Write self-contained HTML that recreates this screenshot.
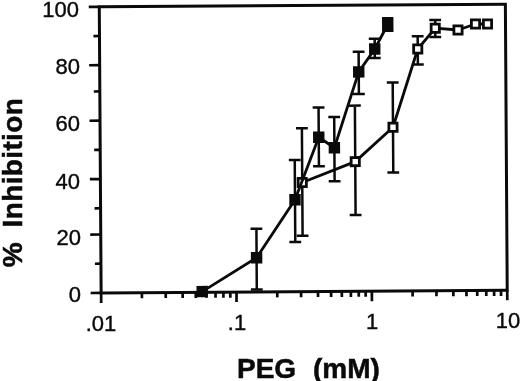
<!DOCTYPE html>
<html><head><meta charset="utf-8"><title>PEG inhibition</title>
<style>
html,body{margin:0;padding:0;background:#fff;}
body{width:520px;height:381px;overflow:hidden;}
svg{display:block;}
text{font-family:"Liberation Sans",sans-serif;fill:#0a0a0a;}
.t{stroke:#0a0a0a;stroke-width:0.4px;}
.b{stroke:#0a0a0a;stroke-width:0.5px;}
</style></head><body>
<svg width="520" height="381" viewBox="0 0 520 381">
<rect width="520" height="381" fill="#fff"/>
<g transform="rotate(-0.37 303.3 148.4)">
<rect x="100.2" y="5.5" width="406.10" height="286.10" fill="none" stroke="#0a0a0a" stroke-width="3.0"/>
<line x1="89.70" y1="291.60" x2="100.20" y2="291.60" stroke="#0a0a0a" stroke-width="2.7"/>
<line x1="94.20" y1="262.41" x2="100.20" y2="262.41" stroke="#0a0a0a" stroke-width="2.7"/>
<line x1="89.70" y1="233.21" x2="100.20" y2="233.21" stroke="#0a0a0a" stroke-width="2.7"/>
<line x1="94.20" y1="206.94" x2="100.20" y2="206.94" stroke="#0a0a0a" stroke-width="2.7"/>
<line x1="89.70" y1="177.74" x2="100.20" y2="177.74" stroke="#0a0a0a" stroke-width="2.7"/>
<line x1="94.20" y1="148.55" x2="100.20" y2="148.55" stroke="#0a0a0a" stroke-width="2.7"/>
<line x1="89.70" y1="119.36" x2="100.20" y2="119.36" stroke="#0a0a0a" stroke-width="2.7"/>
<line x1="94.20" y1="90.16" x2="100.20" y2="90.16" stroke="#0a0a0a" stroke-width="2.7"/>
<line x1="89.70" y1="63.89" x2="100.20" y2="63.89" stroke="#0a0a0a" stroke-width="2.7"/>
<line x1="94.20" y1="34.69" x2="100.20" y2="34.69" stroke="#0a0a0a" stroke-width="2.7"/>
<line x1="89.70" y1="5.50" x2="100.20" y2="5.50" stroke="#0a0a0a" stroke-width="2.7"/>
<line x1="100.20" y1="291.60" x2="100.20" y2="301.60" stroke="#0a0a0a" stroke-width="2.7"/>
<line x1="140.95" y1="291.60" x2="140.95" y2="297.20" stroke="#0a0a0a" stroke-width="2.7"/>
<line x1="164.79" y1="291.60" x2="164.79" y2="297.20" stroke="#0a0a0a" stroke-width="2.7"/>
<line x1="181.70" y1="291.60" x2="181.70" y2="297.20" stroke="#0a0a0a" stroke-width="2.7"/>
<line x1="194.82" y1="291.60" x2="194.82" y2="297.20" stroke="#0a0a0a" stroke-width="2.7"/>
<line x1="205.54" y1="291.60" x2="205.54" y2="297.20" stroke="#0a0a0a" stroke-width="2.7"/>
<line x1="214.60" y1="291.60" x2="214.60" y2="297.20" stroke="#0a0a0a" stroke-width="2.7"/>
<line x1="222.45" y1="291.60" x2="222.45" y2="297.20" stroke="#0a0a0a" stroke-width="2.7"/>
<line x1="229.37" y1="291.60" x2="229.37" y2="297.20" stroke="#0a0a0a" stroke-width="2.7"/>
<line x1="235.57" y1="291.60" x2="235.57" y2="301.60" stroke="#0a0a0a" stroke-width="2.7"/>
<line x1="276.32" y1="291.60" x2="276.32" y2="297.20" stroke="#0a0a0a" stroke-width="2.7"/>
<line x1="300.15" y1="291.60" x2="300.15" y2="297.20" stroke="#0a0a0a" stroke-width="2.7"/>
<line x1="317.07" y1="291.60" x2="317.07" y2="297.20" stroke="#0a0a0a" stroke-width="2.7"/>
<line x1="330.18" y1="291.60" x2="330.18" y2="297.20" stroke="#0a0a0a" stroke-width="2.7"/>
<line x1="340.90" y1="291.60" x2="340.90" y2="297.20" stroke="#0a0a0a" stroke-width="2.7"/>
<line x1="349.96" y1="291.60" x2="349.96" y2="297.20" stroke="#0a0a0a" stroke-width="2.7"/>
<line x1="357.81" y1="291.60" x2="357.81" y2="297.20" stroke="#0a0a0a" stroke-width="2.7"/>
<line x1="364.74" y1="291.60" x2="364.74" y2="297.20" stroke="#0a0a0a" stroke-width="2.7"/>
<line x1="370.93" y1="291.60" x2="370.93" y2="301.60" stroke="#0a0a0a" stroke-width="2.7"/>
<line x1="411.68" y1="291.60" x2="411.68" y2="297.20" stroke="#0a0a0a" stroke-width="2.7"/>
<line x1="435.52" y1="291.60" x2="435.52" y2="297.20" stroke="#0a0a0a" stroke-width="2.7"/>
<line x1="452.43" y1="291.60" x2="452.43" y2="297.20" stroke="#0a0a0a" stroke-width="2.7"/>
<line x1="465.55" y1="291.60" x2="465.55" y2="297.20" stroke="#0a0a0a" stroke-width="2.7"/>
<line x1="476.27" y1="291.60" x2="476.27" y2="297.20" stroke="#0a0a0a" stroke-width="2.7"/>
<line x1="485.33" y1="291.60" x2="485.33" y2="297.20" stroke="#0a0a0a" stroke-width="2.7"/>
<line x1="493.18" y1="291.60" x2="493.18" y2="297.20" stroke="#0a0a0a" stroke-width="2.7"/>
<line x1="500.11" y1="291.60" x2="500.11" y2="297.20" stroke="#0a0a0a" stroke-width="2.7"/>
<line x1="506.30" y1="291.60" x2="506.30" y2="301.60" stroke="#0a0a0a" stroke-width="2.7"/>
<path d="M302.03 128.24V235.74M296.13 128.24h11.8M296.13 235.74h11.8" stroke="#0a0a0a" stroke-width="2.5" fill="none"/>
<path d="M355.16 105.94V215.33M349.26 105.94h11.8M349.26 215.33h11.8" stroke="#0a0a0a" stroke-width="2.5" fill="none"/>
<path d="M393.13 83.08V173.08M387.23 83.08h11.8M387.23 173.08h11.8" stroke="#0a0a0a" stroke-width="2.5" fill="none"/>
<path d="M418.39 36.99V65.24M412.49 36.99h11.8M412.49 65.24h11.8" stroke="#0a0a0a" stroke-width="2.5" fill="none"/>
<path d="M436.02 20.85V37.85M430.12 20.85h11.8M430.12 37.85h11.8" stroke="#0a0a0a" stroke-width="2.5" fill="none"/>
<polyline points="302.03,182.49 355.16,161.94 393.13,127.83 418.39,49.74 436.02,29.05 458.76,31.00 476.30,25.11 488.30,25.19" fill="none" stroke="#0a0a0a" stroke-width="2.8" stroke-linejoin="round"/>
<rect x="297.93" y="178.39" width="8.2" height="8.2" fill="#fff" stroke="#0a0a0a" stroke-width="2.8"/>
<rect x="351.06" y="157.84" width="8.2" height="8.2" fill="#fff" stroke="#0a0a0a" stroke-width="2.8"/>
<rect x="389.03" y="123.73" width="8.2" height="8.2" fill="#fff" stroke="#0a0a0a" stroke-width="2.8"/>
<rect x="414.29" y="45.64" width="8.2" height="8.2" fill="#fff" stroke="#0a0a0a" stroke-width="2.8"/>
<rect x="431.92" y="24.95" width="8.2" height="8.2" fill="#fff" stroke="#0a0a0a" stroke-width="2.8"/>
<rect x="454.66" y="26.90" width="8.2" height="8.2" fill="#fff" stroke="#0a0a0a" stroke-width="2.8"/>
<rect x="472.20" y="21.01" width="8.2" height="8.2" fill="#fff" stroke="#0a0a0a" stroke-width="2.8"/>
<rect x="484.20" y="21.09" width="8.2" height="8.2" fill="#fff" stroke="#0a0a0a" stroke-width="2.8"/>
<path d="M255.89 228.45V289.20M249.99 228.45h11.8M249.99 289.20h11.8" stroke="#0a0a0a" stroke-width="2.5" fill="none"/>
<path d="M294.67 159.95V241.94M288.77 159.95h11.8M288.77 241.94h11.8" stroke="#0a0a0a" stroke-width="2.5" fill="none"/>
<path d="M318.82 107.60V166.35M312.92 107.60h11.8M312.92 166.35h11.8" stroke="#0a0a0a" stroke-width="2.5" fill="none"/>
<path d="M334.40 117.20V181.45M328.50 117.20h11.8M328.50 181.45h11.8" stroke="#0a0a0a" stroke-width="2.5" fill="none"/>
<path d="M359.24 52.11V94.36M353.34 52.11h11.8M353.34 94.36h11.8" stroke="#0a0a0a" stroke-width="2.5" fill="none"/>
<path d="M375.39 39.21V58.46M369.49 39.21h11.8M369.49 58.46h11.8" stroke="#0a0a0a" stroke-width="2.5" fill="none"/>
<polyline points="201.28,290.94 255.89,257.45 294.67,199.70 318.82,137.35 334.40,147.95 359.24,72.26 375.39,49.46 388.55,25.05" fill="none" stroke="#0a0a0a" stroke-width="2.8" stroke-linejoin="round"/>
<rect x="195.58" y="285.24" width="11.4" height="11.4" fill="#0a0a0a"/>
<rect x="250.19" y="251.75" width="11.4" height="11.4" fill="#0a0a0a"/>
<rect x="288.97" y="194.00" width="11.4" height="11.4" fill="#0a0a0a"/>
<rect x="313.12" y="131.65" width="11.4" height="11.4" fill="#0a0a0a"/>
<rect x="328.70" y="142.25" width="11.4" height="11.4" fill="#0a0a0a"/>
<rect x="353.54" y="66.56" width="11.4" height="11.4" fill="#0a0a0a"/>
<rect x="369.69" y="43.76" width="11.4" height="11.4" fill="#0a0a0a"/>
<rect x="382.85" y="17.55" width="11.4" height="15" fill="#0a0a0a"/>
</g>
<text class="t" x="81" y="302" text-anchor="end" font-size="22">0</text>
<text class="t" x="81" y="245" text-anchor="end" font-size="22">20</text>
<text class="t" x="80" y="189" text-anchor="end" font-size="22">40</text>
<text class="t" x="80" y="131" text-anchor="end" font-size="22">60</text>
<text class="t" x="80" y="74" text-anchor="end" font-size="22">80</text>
<text class="t" x="79" y="17" text-anchor="end" font-size="22">100</text>
<text class="t" x="101" y="331" text-anchor="middle" font-size="22">.01</text>
<text class="t" x="237" y="330" text-anchor="middle" font-size="22">.1</text>
<text class="t" x="372" y="329" text-anchor="middle" font-size="22">1</text>
<text class="t" x="508" y="328" text-anchor="middle" font-size="22">10</text>
<text class="b" x="237" y="378" font-size="28" font-weight="bold">PEG <tspan x="313">(mM)</tspan></text>
<text class="b" transform="translate(22.1 267.2) rotate(-90)" font-size="28" font-weight="bold">% <tspan x="39.8" letter-spacing="0.36">Inhibition</tspan></text>
</svg>
</body></html>
